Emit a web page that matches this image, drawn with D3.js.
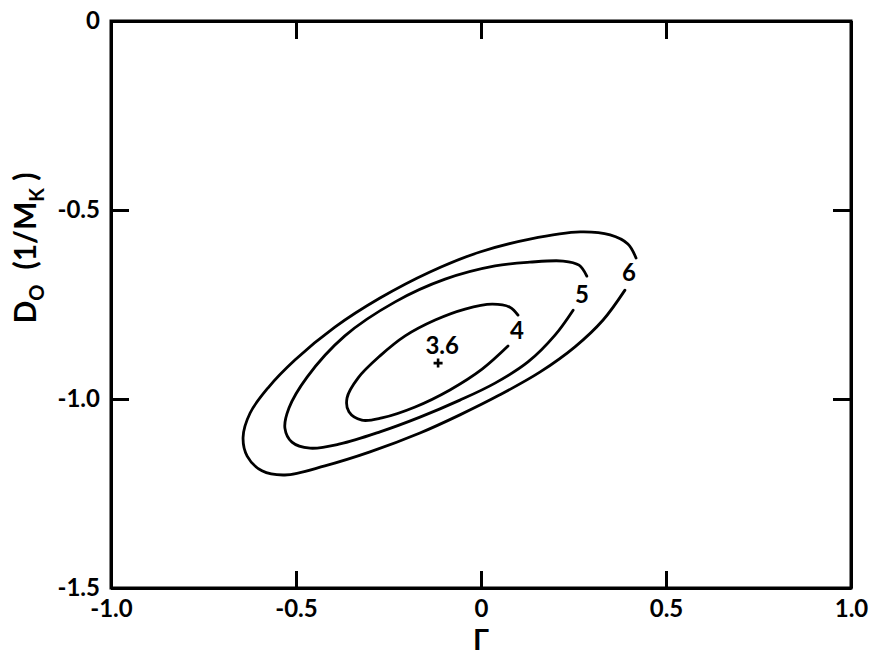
<!DOCTYPE html>
<html>
<head>
<meta charset="utf-8">
<script src="https://cdn.jsdelivr.net/npm/d3@7"></script>
<style>
  html, body { margin: 0; padding: 0; background: #fff; }
  svg { display: block; }
  text { font-family: Lato, "DejaVu Sans", sans-serif; fill: #000; }
</style>
</head>
<body>
<svg id="chart" width="869" height="657"></svg>
<script>
// ---- data (Γ, D0) ----
const xTicks = [-1.0, -0.5, 0, 0.5, 1.0];
const xTickLabels = ["-1.0", "-0.5", "0", "0.5", "1.0"];
const yTicks = [0, -0.5, -1.0, -1.5];
const yTickLabels = ["0", "-0.5", "-1.0", "-1.5"];

const contour6 = [
  [0.389,-0.712],[0.330,-0.791],[0.254,-0.862],[0.159,-0.929],[0.051,-0.989],
  [-0.057,-1.042],[-0.165,-1.090],[-0.300,-1.140],[-0.422,-1.177],[-0.530,-1.201],
  [-0.592,-1.190],[-0.632,-1.151],[-0.643,-1.101],[-0.624,-1.037],[-0.576,-0.971],
  [-0.503,-0.897],[-0.395,-0.810],[-0.273,-0.733],[-0.138,-0.664],[-0.003,-0.611],
  [0.132,-0.577],[0.268,-0.558],[0.349,-0.566],[0.397,-0.590],[0.419,-0.627]
];
const contour5 = [
  [0.249,-0.765],[0.200,-0.831],[0.127,-0.902],[0.038,-0.958],[-0.057,-1.003],
  [-0.165,-1.048],[-0.273,-1.087],[-0.381,-1.119],[-0.462,-1.130],[-0.511,-1.114],
  [-0.530,-1.077],[-0.519,-1.024],[-0.470,-0.942],[-0.368,-0.833],[-0.232,-0.743],
  [-0.097,-0.683],[0.038,-0.648],[0.132,-0.638],[0.222,-0.635],[0.265,-0.646],
  [0.286,-0.675]
];
const contour4 = [
  [0.073,-0.860],[0.003,-0.921],[-0.084,-0.976],[-0.178,-1.021],[-0.268,-1.050],
  [-0.322,-1.056],[-0.357,-1.034],[-0.362,-0.997],[-0.332,-0.944],[-0.273,-0.886],
  [-0.205,-0.833],[-0.124,-0.791],[-0.043,-0.762],[0.030,-0.749],[0.078,-0.757],
  [0.100,-0.778]
];
const contours = [contour6, contour5, contour4];
const contourLabels = ["6", "5", "4", "3.6"];
const contourLabelPos = [[0.400,-0.664],[0.273,-0.720],[0.097,-0.817],[-0.105,-0.857]];
const minimumPoint = [-0.116, -0.905];

// ---- layout ----
const svg = d3.select("#chart");
const L = 111, R = 851, T = 21, B = 588;
const x = d3.scaleLinear().domain([-1, 1]).range([L, R]);
const y = d3.scaleLinear().domain([0, -1.5]).range([T, B]);

// axes with inward ticks
const gBottom = svg.append("g").attr("transform", `translate(0,${B})`)
  .call(d3.axisBottom(x).tickValues(xTicks).tickSizeInner(-17).tickSizeOuter(0)
    .tickPadding(12).tickFormat((d, i) => xTickLabels[i]));
const gTop = svg.append("g").attr("transform", `translate(0,${T})`)
  .call(d3.axisTop(x).tickValues(xTicks).tickSizeInner(-18).tickSizeOuter(0).tickFormat(""));
const gLeft = svg.append("g").attr("transform", `translate(${L},0)`)
  .call(d3.axisLeft(y).tickValues(yTicks).tickSizeInner(-18).tickSizeOuter(0)
    .tickPadding(11).tickFormat((d, i) => yTickLabels[i]));
const gRight = svg.append("g").attr("transform", `translate(${R},0)`)
  .call(d3.axisRight(y).tickValues(yTicks).tickSizeInner(-18).tickSizeOuter(0).tickFormat(""));

[gBottom, gTop, gLeft, gRight].forEach(g => {
  g.selectAll(".domain").attr("stroke", "#000").attr("stroke-width", 3);
  g.selectAll(".tick line").attr("stroke", "#000").attr("stroke-width", 3);
  g.selectAll(".tick text").attr("font-size", 24).attr("font-weight", "bold").attr("fill", "#000")
    .attr("font-family", "Lato, DejaVu Sans, sans-serif");
});

// frame
svg.append("rect").attr("x", L).attr("y", T).attr("width", R - L).attr("height", B - T)
  .attr("fill", "none").attr("stroke", "#000").attr("stroke-width", 3);

// contours
const line = d3.line().x(d => x(d[0])).y(d => y(d[1])).curve(d3.curveCatmullRom.alpha(0.5));
svg.append("g").selectAll("path").data(contours).join("path")
  .attr("d", line).attr("fill", "none").attr("stroke", "#000")
  .attr("stroke-width", 2.8).attr("stroke-linecap", "round");

// contour labels
svg.append("g").selectAll("text").data(contourLabels).join("text")
  .attr("x", (d, i) => x(contourLabelPos[i][0]))
  .attr("y", (d, i) => y(contourLabelPos[i][1]))
  .attr("text-anchor", "middle").attr("dominant-baseline", "central")
  .attr("font-size", 24).attr("font-weight", "bold").text(d => d);

// minimum marker
const mx = x(minimumPoint[0]), my = y(minimumPoint[1]);
svg.append("path").attr("d", `M${mx-4.5},${my}H${mx+4.5}M${mx},${my-4.5}V${my+4.5}`)
  .attr("stroke", "#000").attr("stroke-width", 2.6);

// axis titles
svg.append("text").attr("x", x(0)).attr("y", 650).attr("text-anchor", "middle")
  .attr("font-family", "Liberation Serif, serif").attr("font-weight", "bold")
  .attr("font-size", 29).text("Γ");

const yl = svg.append("text").attr("transform", "translate(36,248) rotate(-90)")
  .attr("text-anchor", "middle").attr("font-size", 30).attr("font-weight", "bold");
yl.append("tspan").text("D");
yl.append("tspan").attr("font-size", 20).attr("dy", 8).text("O");
yl.append("tspan").attr("dy", -8).text("\u2002(1/M");
yl.append("tspan").attr("font-size", 20).attr("dy", 8).text("K");
yl.append("tspan").attr("dy", -8).text(" )");
</script>
</body>
</html>
